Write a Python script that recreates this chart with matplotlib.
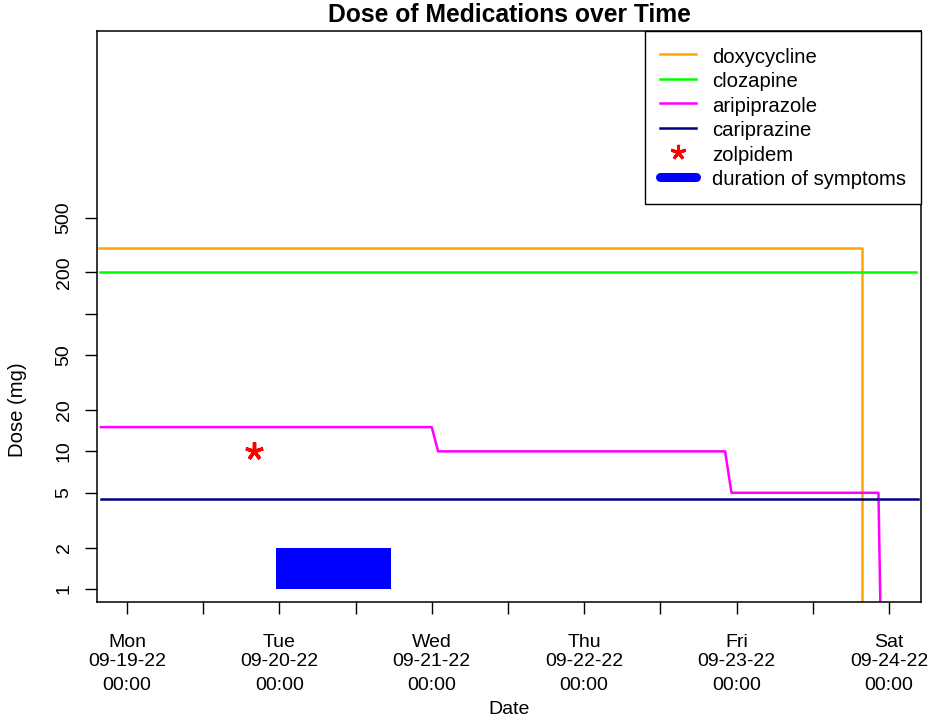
import matplotlib
matplotlib.use("Agg")
import matplotlib.pyplot as plt
from matplotlib.lines import Line2D

plt.rcParams['font.family'] = ['Liberation Sans', 'DejaVu Sans']

# times in hours after Mon 09-19-22 00:00
doxy_t = [-4.4, 115.7, 115.7]
doxy_dose = [300, 300, 0.01]
cloz_t = [-4.25, 124.3]
cloz_dose = [200, 200]
arip_t = [-4.1, 48, 49, 94.2, 95.2, 118.35, 119.35]
arip_dose = [15, 15, 10, 10, 5, 5, 0.01]
cari_t = [-4.1, 124.6]
cari_dose = [4.5, 4.5]
zolp_t = [20]
zolp_dose = [10]
sym_t = [23.5, 41.6]
sym_low = [1, 1]
sym_high = [2, 2]

day_hours = [0, 24, 48, 72, 96, 120]
day_names = ['Mon', 'Tue', 'Wed', 'Thu', 'Fri', 'Sat']
day_dates = ['09-19-22', '09-20-22', '09-21-22', '09-22-22', '09-23-22', '09-24-22']
day_times = ['00:00'] * 6
half_hours = [12, 36, 60, 84, 108]
y_ticks = [1, 2, 5, 10, 20, 50, 100, 200, 500]
y_labels = ['1', '2', '5', '10', '20', '50', '', '200', '500']

fig = plt.figure(figsize=(9.35, 7.2), dpi=100)
ax = fig.add_axes([97/935, 1-602/720, 824/935, 571/720])

lw = 1.8
ax.plot(doxy_t, doxy_dose, color='#FFA500', lw=lw)
ax.plot(cloz_t, cloz_dose, color='#00FF00', lw=lw)
ax.plot(arip_t, arip_dose, color='#FF00FF', lw=lw)
ax.plot(cari_t, cari_dose, color='#000080', lw=lw)
ax.plot(zolp_t, zolp_dose, linestyle='none', marker=(5, 2, 0), color='red',
        markersize=13, markeredgewidth=2.5)
ax.fill_between(sym_t, sym_low, sym_high, color='#0000FF', lw=0)

ax.set_yscale('log')
ax.set_xlim(-4.72, 125.05)
ax.set_ylim(0.804, 11350)

ax.set_yticks(y_ticks, labels=y_labels)
ax.yaxis.set_minor_locator(matplotlib.ticker.NullLocator())
ax.tick_params(axis='y', direction='out', length=8.6, width=1.0,
               labelsize=14, pad=9, labelrotation=90)
for lab in ax.get_yticklabels():
    lab.set_va('center')

ax.set_xticks(day_hours, labels=[''] * 6)
ax.set_xticks(half_hours, minor=True)
ax.tick_params(axis='x', which='both', direction='out', length=8.6, width=1.0)

for h, n, d, t in zip(day_hours, day_names, day_dates, day_times):
    for txt, off in ((n, 45.4), (d, 64), (t, 88)):
        ax.annotate(txt, xy=(h, 0), xycoords=('data', 'axes fraction'),
                    xytext=(0, -off), textcoords='offset pixels',
                    ha='center', va='baseline', fontsize=14)

for sp in ax.spines.values():
    sp.set_linewidth(1.1)

ax.set_title('Dose of Medications over Time', fontsize=17.75,
             fontweight='bold', pad=6.3)
fig.text(509/935, 1-714.5/720, 'Date', ha='center', va='baseline', fontsize=14)
fig.text(18/935, 1-410/720, 'Dose (mg)', ha='center', va='center',
         rotation=90, fontsize=14.6)

handles = [
    Line2D([], [], color='#FFA500', lw=lw),
    Line2D([], [], color='#00FF00', lw=lw),
    Line2D([], [], color='#FF00FF', lw=lw),
    Line2D([], [], color='#000080', lw=lw),
    Line2D([], [], linestyle='none', marker=(5, 2, 0), color='red',
           markersize=11, markeredgewidth=2.2),
    Line2D([], [], color='#0000FF', lw=6.5, solid_capstyle='round'),
]
names = ['doxycycline', 'clozapine', 'aripiprazole', 'cariprazine',
         'zolpidem', 'duration of symptoms']
leg = ax.legend(handles, names, loc='upper right', bbox_to_anchor=(1, 1),
                borderaxespad=0, fontsize=14.6, fancybox=False, framealpha=1,
                edgecolor='black', handlelength=1.8, handletextpad=0.8,
                handleheight=1.15, labelspacing=0.18, borderpad=0.72)
leg.get_frame().set_linewidth(1.0)

fig.savefig('out.png', dpi=100)
